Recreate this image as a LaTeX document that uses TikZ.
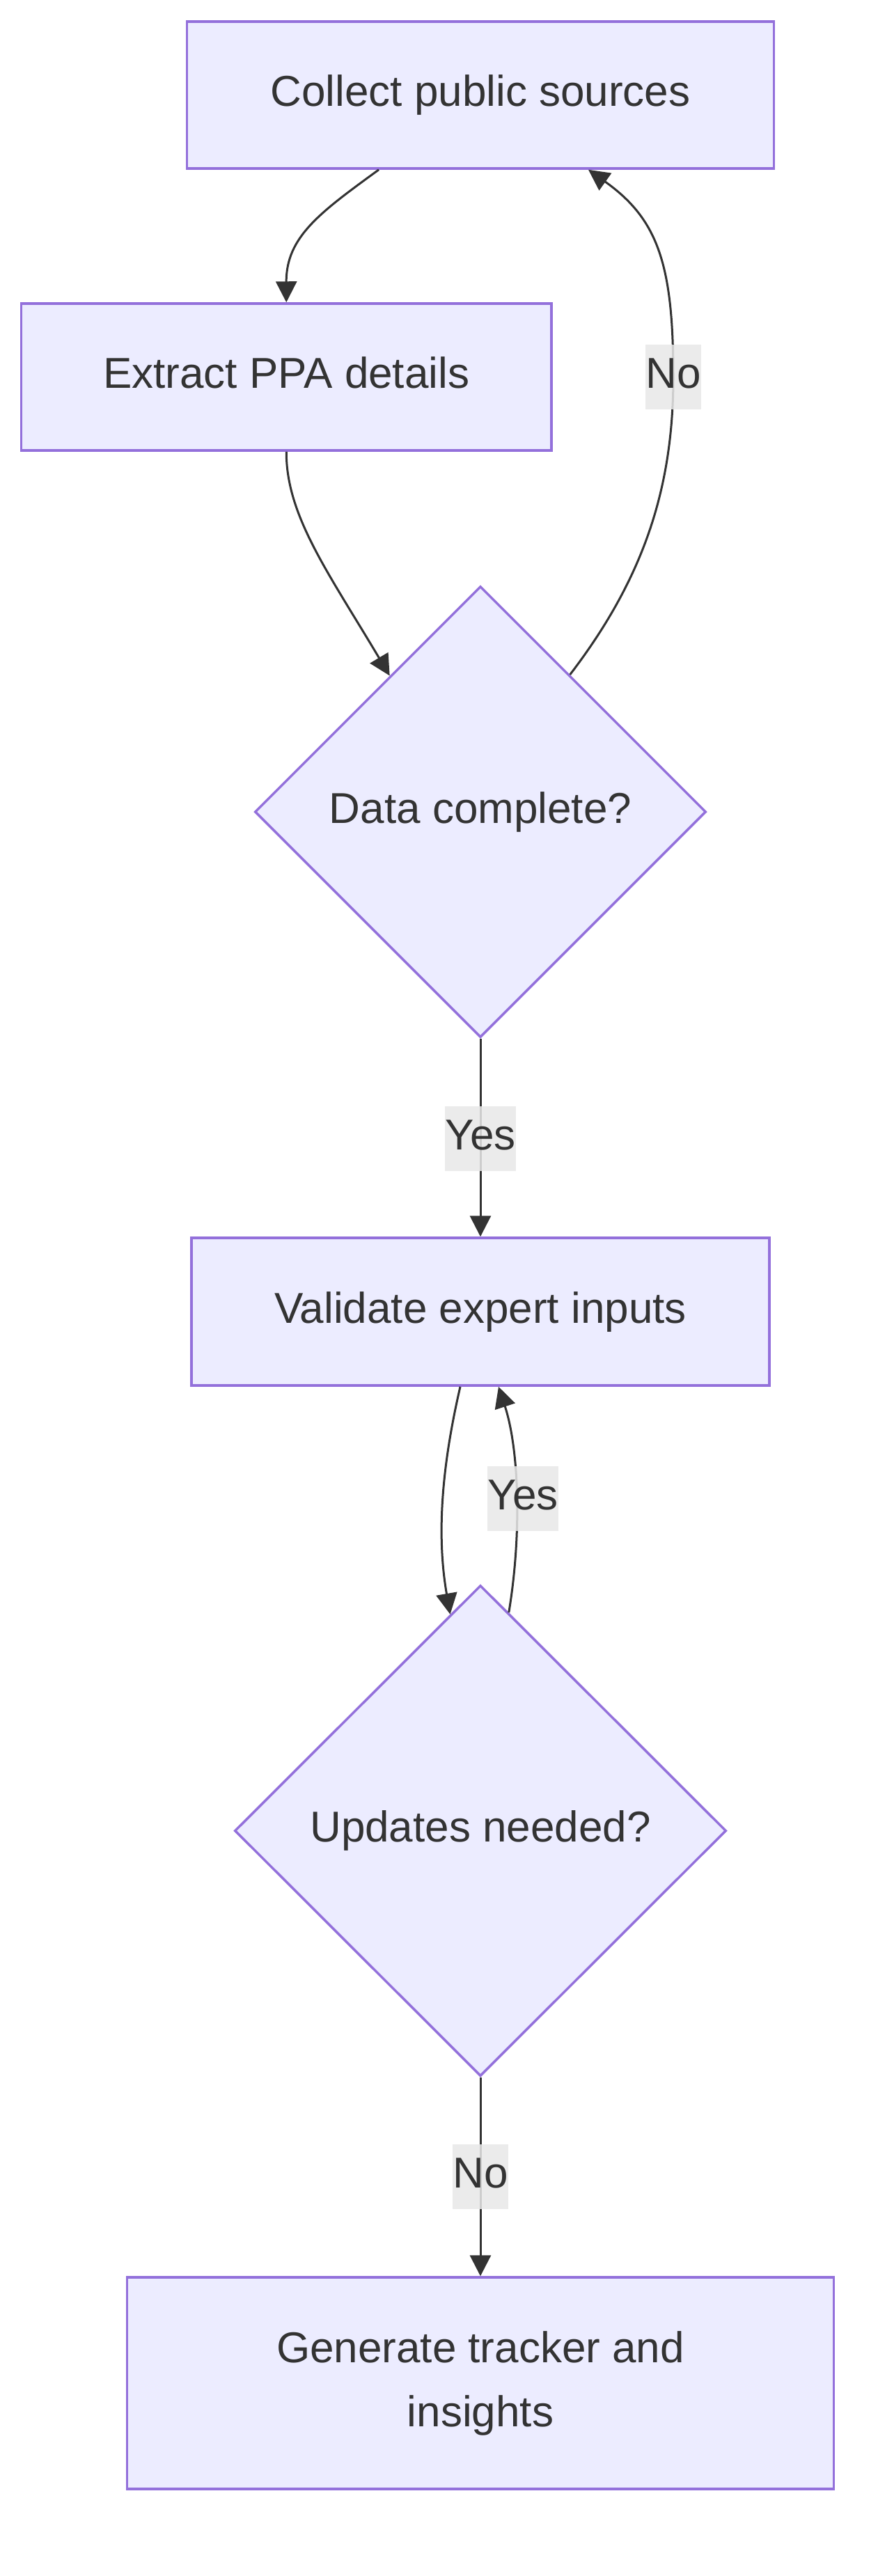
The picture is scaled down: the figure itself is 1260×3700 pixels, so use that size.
\documentclass[tikz,border=0pt]{standalone}
\usepackage{fontspec}
\setmainfont{Liberation Sans}
\usetikzlibrary{shapes.geometric,arrows.meta,calc}
\definecolor{nodefill}{HTML}{ECECFF}
\definecolor{nodeline}{HTML}{9370DB}
\definecolor{ink}{HTML}{333333}
\definecolor{lblbg}{HTML}{E8E8E8}
\begin{document}
\begin{tikzpicture}[x=0.5pt,y=-0.5pt,
  procbox/.style={draw=nodeline, fill=nodefill, line width=1.75pt, text=ink,
    font=\fontsize{31}{46}\selectfont, inner sep=0pt, align=center},
  oneline/.style={text height=22.6pt, text depth=6.5pt},
  decision/.style={diamond, aspect=1, draw=nodeline, fill=nodefill, line width=1.75pt,
    text=ink, font=\fontsize{31}{46}\selectfont, inner sep=0pt},
  flow/.style={draw=ink, line width=1.5pt, -{Triangle[length=15pt,width=15pt]}},
  elabel/.style={fill=lblbg, fill opacity=0.85, text opacity=1, text=ink,
    font=\fontsize{31}{46}\selectfont, inner sep=0pt, minimum height=46.5pt,
    text height=22.6pt, text depth=6.5pt}
]
\fill[white] (0,0) rectangle (1260,3700);
\path[use as bounding box] (0,0) rectangle (1260,3700);

\node[procbox, oneline, minimum width=421.5pt, minimum height=105.5pt] (collect) at (690,136.5) {Collect public sources};
\node[procbox, oneline, minimum width=380.75pt, minimum height=105.5pt] (extract) at (411.25,541.5) {Extract PPA details};
\node[decision, minimum width=324pt, minimum height=324pt] (d1) at (690,1166) {Data complete?};
\node[procbox, oneline, minimum width=415pt, minimum height=106pt] (validate) at (690,1884) {Validate expert inputs};
\node[decision, minimum width=353pt, minimum height=352.5pt] (d2) at (690,2629.5) {Updates needed?};
\node[procbox, minimum width=507.5pt, minimum height=152pt] (generate) at (690,3423) {Generate tracker and\\insights};

\coordinate (nobend) at (967,541.5);

\draw[flow] ($(collect.south)+(-146,0)$) .. controls (460,305) and (411,340) .. (extract.north);
\draw[flow] (extract.south) .. controls (411,740) and (470,820) .. ($(d1.north west)!0.2!(d1.north)$);
\draw[flow] ($(d1.north east)!0.21!(d1.north)$) .. controls (925,830) and (967,700) .. (nobend)
   .. controls (967,380) and (945,315) .. ($(collect.south)+(155,0)$);
\draw[flow] (d1.south) -- (validate.north);
\draw[flow] ($(validate.south)+(-29,0)$) .. controls (636,2100) and (626,2200) .. ($(d2.north)!0.245!(d2.north west)$);
\draw[flow] ($(d2.north)!0.23!(d2.north east)$) .. controls (750,2200) and (745,2080) .. ($(validate.south)+(26,0)$);
\draw[flow] (d2.south) -- (generate.north);

\node[elabel] (lno1) at (nobend) {No};
\node[elabel] (lyes1) at (690,1635) {Yes};
\node[elabel] (lyes2) at (751,2152.5) {Yes};
\node[elabel] (lno2) at (690,3126.5) {No};
\end{tikzpicture}
\end{document}
